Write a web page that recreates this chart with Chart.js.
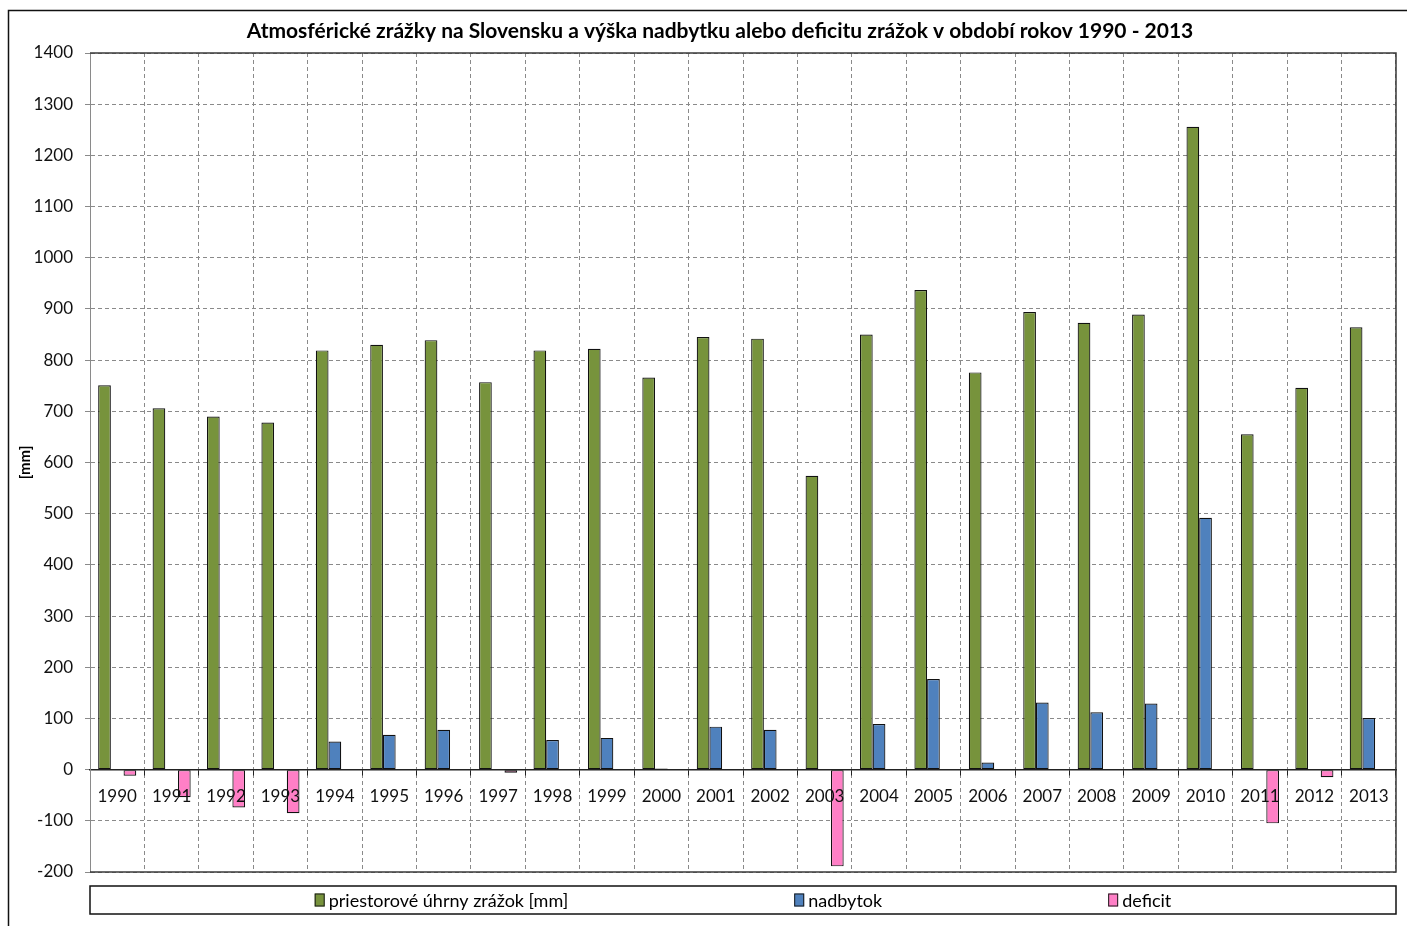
<!DOCTYPE html>
<html>
<head>
<meta charset="utf-8">
<title>Atmosférické zrážky na Slovensku 1990 - 2013</title>
<script src="https://cdn.jsdelivr.net/npm/chart.js@4/dist/chart.umd.min.js"></script>
<style>
  html, body { margin: 0; padding: 0; background: #fff; overflow: hidden; }
  canvas { display: block; }
</style>
</head>
<body>
<canvas id="c" width="1407" height="926"></canvas>
<script>
// Years on the category axis
const years = ['1990','1991','1992','1993','1994','1995','1996','1997','1998','1999','2000','2001',
               '2002','2003','2004','2005','2006','2007','2008','2009','2010','2011','2012','2013'];

// Area precipitation totals [mm]
const uhrny = [751, 706, 690, 678, 819, 830, 839, 757, 819, 822, 766, 845,
               842, 574, 850, 937, 776, 894, 873, 889, 1256, 655, 746, 864];

// Surplus above the long-term normal [mm]
const nadbytok = [null, null, null, null, 55, 68, 78, null, 58, 62, 2, 84,
                  78, null, 89, 177, 14, 131, 112, 129, 492, null, null, 101];

// Deficit below the long-term normal [mm]
const deficit = [-12, -54, -74, -85, null, null, null, -6, null, null, null, null,
                 null, -189, null, null, null, null, null, null, null, -105, -15, null];

const seriesNames = ['priestorové úhrny zrážok [mm]', 'nadbytok', 'deficit'];
const chartTitle = 'Atmosférické zrážky na Slovensku a výška nadbytku alebo deficitu zrážok v období rokov 1990 - 2013';
const axisTitle = '[mm]';

const FONT = 'Lato, "Noto Sans", "DejaVu Sans", sans-serif';
const GRID = '#8a8a8a';

// Outer frame, plot border, title and the boxed legend row
const decorations = {
  id: 'decorations',
  afterDraw(chart) {
    const ctx = chart.ctx;
    const a = chart.chartArea;
    ctx.save();

    // outer frame (left and top edges)
    ctx.strokeStyle = '#111';
    ctx.lineWidth = 1.5;
    ctx.beginPath();
    ctx.moveTo(8.5, chart.height);
    ctx.lineTo(8.5, 10.5);
    ctx.lineTo(chart.width, 10.5);
    ctx.stroke();

    // plot area border: top, right, bottom
    ctx.strokeStyle = '#3a3a3a';
    ctx.lineWidth = 1.5;
    ctx.beginPath();
    ctx.moveTo(a.left, a.top);
    ctx.lineTo(a.right, a.top);
    ctx.lineTo(a.right, a.bottom);
    ctx.lineTo(a.left, a.bottom);
    ctx.stroke();

    // title
    ctx.fillStyle = '#000';
    ctx.font = 'bold 21px ' + FONT;
    ctx.textAlign = 'center';
    ctx.textBaseline = 'middle';
    ctx.fillText(chartTitle, 720, 31);

    // legend box
    const boxTop = a.bottom + 14, boxH = 28;
    ctx.strokeStyle = '#111';
    ctx.lineWidth = 1.5;
    ctx.strokeRect(a.left, boxTop, a.right - a.left, boxH);

    // legend entries, spread with equal gaps and centred on the plot
    ctx.font = '18px ' + FONT;
    ctx.textAlign = 'left';
    const sw = 10, sh = 13, sgap = 4, gap = 226;
    const ds = chart.data.datasets;
    const widths = ds.map(d => sw + sgap + ctx.measureText(d.label).width);
    const total = widths.reduce((s, w) => s + w, 0) + gap * (ds.length - 1);
    let x = (a.left + a.right) / 2 - total / 2;
    const cy = boxTop + boxH / 2;
    ds.forEach((d, i) => {
      ctx.fillStyle = d.backgroundColor;
      ctx.fillRect(x, cy - sh / 2, sw, sh);
      ctx.strokeStyle = '#1a1a1a';
      ctx.lineWidth = 1;
      ctx.strokeRect(x + 0.5, cy - sh / 2 + 0.5, sw - 1, sh - 1);
      ctx.fillStyle = '#000';
      ctx.fillText(d.label, x + sw + sgap, cy + 1);
      x += widths[i] + gap;
    });
    ctx.restore();
  }
};

new Chart(document.getElementById('c'), {
  type: 'bar',
  data: {
    labels: years,
    datasets: [
      { label: seriesNames[0], data: uhrny, backgroundColor: '#77933C' },
      { label: seriesNames[1], data: nadbytok, backgroundColor: '#4F81BD' },
      { label: seriesNames[2], data: deficit, backgroundColor: '#FF7FC6' }
    ]
  },
  options: {
    responsive: false,
    animation: false,
    devicePixelRatio: 1,
    layout: { padding: { top: 53, left: 16, right: 11, bottom: 54 } },
    datasets: {
      bar: {
        borderColor: '#111',
        borderWidth: 1.2,
        borderSkipped: false,
        categoryPercentage: 0.7,
        barPercentage: 1.0
      }
    },
    plugins: {
      legend: { display: false },
      title: { display: false },
      tooltip: { enabled: false }
    },
    scales: {
      x: {
        position: { y: 0 },
        grid: {
          color: GRID,
          lineWidth: 1,
          offset: true,
          drawTicks: true,
          tickLength: 5,
          tickColor: '#222',
          tickBorderDash: []
        },
        border: { display: true, color: '#222', width: 1.5, dash: [4, 3] },
        ticks: {
          z: 1,
          color: '#111',
          font: { family: FONT, size: 17 },
          padding: 12,
          maxRotation: 0,
          autoSkip: false
        }
      },
      y: {
        min: -200,
        max: 1400,
        afterFit(scale) { scale.width = 74; },
        grid: {
          color: GRID,
          lineWidth: 1,
          drawTicks: true,
          tickLength: 5,
          tickColor: GRID,
          tickBorderDash: []
        },
        border: { display: true, color: GRID, width: 1, dash: [4, 3] },
        ticks: {
          stepSize: 100,
          color: '#111',
          font: { family: FONT, size: 17 },
          padding: 12,
          callback: v => String(v)
        },
        title: {
          display: true,
          text: axisTitle,
          color: '#000',
          font: { family: FONT, size: 15, weight: 'bold' },
          padding: { top: 0, bottom: 0 }
        }
      }
    }
  },
  plugins: [decorations]
});
</script>
</body>
</html>
